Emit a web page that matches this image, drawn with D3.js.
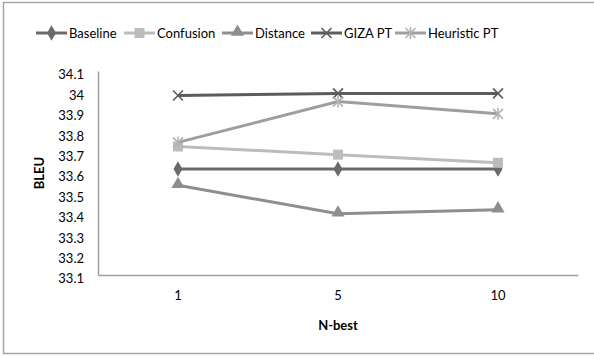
<!DOCTYPE html>
<html>
<head>
<meta charset="utf-8">
<script src="https://cdn.jsdelivr.net/npm/d3@7"></script>
<style>
  body { margin: 0; background: #fff; }
  svg text { font-family: Lato, "Open Sans", sans-serif; fill: #000; }
</style>
</head>
<body>
<svg id="chart" width="594" height="356"></svg>
<script>
// data
const categories = ["1", "5", "10"];
const seriesNames = ["Baseline", "Confusion", "Distance", "GIZA PT", "Heuristic PT"];
const baseline = [33.62, 33.62, 33.62];
const confusion = [33.73, 33.69, 33.65];
const distance = [33.54, 33.40, 33.42];
const gizaPT = [33.98, 33.99, 33.99];
const heuristicPT = [33.75, 33.95, 33.89];
const yTicks = [33.1, 33.2, 33.3, 33.4, 33.5, 33.6, 33.7, 33.8, 33.9, 34, 34.1];

const series = [
  {name: seriesNames[0], values: baseline, color: "#6a6a6a", mark: "diamond"},
  {name: seriesNames[1], values: confusion, color: "#bcbcbc", mark: "square"},
  {name: seriesNames[2], values: distance, color: "#8e8e8e", mark: "triangle"},
  {name: seriesNames[3], values: gizaPT, color: "#5c5c5c", mark: "x"},
  {name: seriesNames[4], values: heuristicPT, color: "#9e9e9e", mark: "star"}
];

const svg = d3.select("#chart");
const margin = {left: 98, right: 16, top: 71, bottom: 81};
const w = 594, h = 356;

// outer frame
svg.append("rect")
  .attr("x", 3.5).attr("y", 2.5)
  .attr("width", 600).attr("height", 351)
  .attr("fill", "none").attr("stroke", "#a6a6a6").attr("stroke-width", 1.5);

const x = d3.scaleBand()
  .domain(categories)
  .range([margin.left, w - margin.right]);

const y = d3.scaleLinear()
  .domain([33.1, 34.1])
  .range([h - margin.bottom, margin.top]);

// y axis
const yAxis = d3.axisLeft(y).tickValues(yTicks).tickSize(0).tickPadding(14)
  .tickFormat(d => d3.format("")(+d.toFixed(1)));
const gy = svg.append("g").attr("transform", "translate(" + margin.left + ",0)").call(yAxis);
gy.select(".domain").attr("stroke", "#a0a0a0").attr("stroke-width", 1.5);
gy.selectAll("text").attr("font-size", 13).attr("dy", "0.6em");

// x axis
const xAxis = d3.axisBottom(x).tickSize(0).tickPadding(16);
const gx = svg.append("g").attr("transform", "translate(0," + (h - margin.bottom) + ")").call(xAxis);
gx.select(".domain").attr("stroke", "#a0a0a0").attr("stroke-width", 1.5);
gx.selectAll("text").attr("font-size", 13);

svg.append("text")
  .attr("transform", "translate(44," + ((margin.top + h - margin.bottom) / 2) + ") rotate(-90)")
  .attr("text-anchor", "middle")
  .attr("font-size", 13).attr("font-weight", "bold")
  .text("BLEU");

svg.append("text")
  .attr("x", x("5") + x.bandwidth() / 2).attr("y", 330)
  .attr("text-anchor", "middle")
  .attr("font-size", 13).attr("font-weight", "bold")
  .text("N-best");

// marker drawing
function drawMark(g, kind, color) {
  if (kind === "diamond") {
    g.append("path").attr("d", d3.symbol(d3.symbolDiamond, 70)()).attr("fill", color);
  } else if (kind === "square") {
    g.append("path").attr("d", d3.symbol(d3.symbolSquare, 100)()).attr("fill", color);
  } else if (kind === "triangle") {
    g.append("path").attr("d", d3.symbol(d3.symbolTriangle, 75)()).attr("fill", color)
      .attr("transform", "translate(0,-1)");
  } else if (kind === "x") {
    g.append("path").attr("d", "M-5,-5L5,5M-5,5L5,-5")
      .attr("stroke", color).attr("stroke-width", 1.6).attr("fill", "none");
  } else if (kind === "star") {
    g.append("path").attr("d", "M-5,-5L5,5M-5,5L5,-5M0,-6L0,6")
      .attr("stroke", "#b4b4b4").attr("stroke-width", 1.6).attr("fill", "none");
  }
}

const line = d3.line()
  .x((d, i) => x(categories[i]) + x.bandwidth() / 2)
  .y(d => y(d));

series.forEach(s => {
  svg.append("path")
    .datum(s.values)
    .attr("d", line)
    .attr("fill", "none")
    .attr("stroke", s.color)
    .attr("stroke-width", 3);
  s.values.forEach((v, i) => {
    const g = svg.append("g")
      .attr("transform", "translate(" + (x(categories[i]) + x.bandwidth() / 2) + "," + y(v) + ")");
    drawMark(g, s.mark, s.color);
  });
});

// legend
const legendX = [36, 124, 222, 311, 395];
series.forEach((s, i) => {
  const lg = svg.append("g").attr("transform", "translate(" + legendX[i] + ",33)");
  lg.append("line").attr("x1", 0).attr("x2", 31).attr("y1", 0).attr("y2", 0)
    .attr("stroke", s.color).attr("stroke-width", 3);
  const m = lg.append("g").attr("transform", "translate(15.5,0)");
  drawMark(m, s.mark, s.color);
  lg.append("text").attr("x", 33).attr("y", 0).attr("dy", "0.35em")
    .attr("font-size", 13).text(s.name);
});
</script>
</body>
</html>
